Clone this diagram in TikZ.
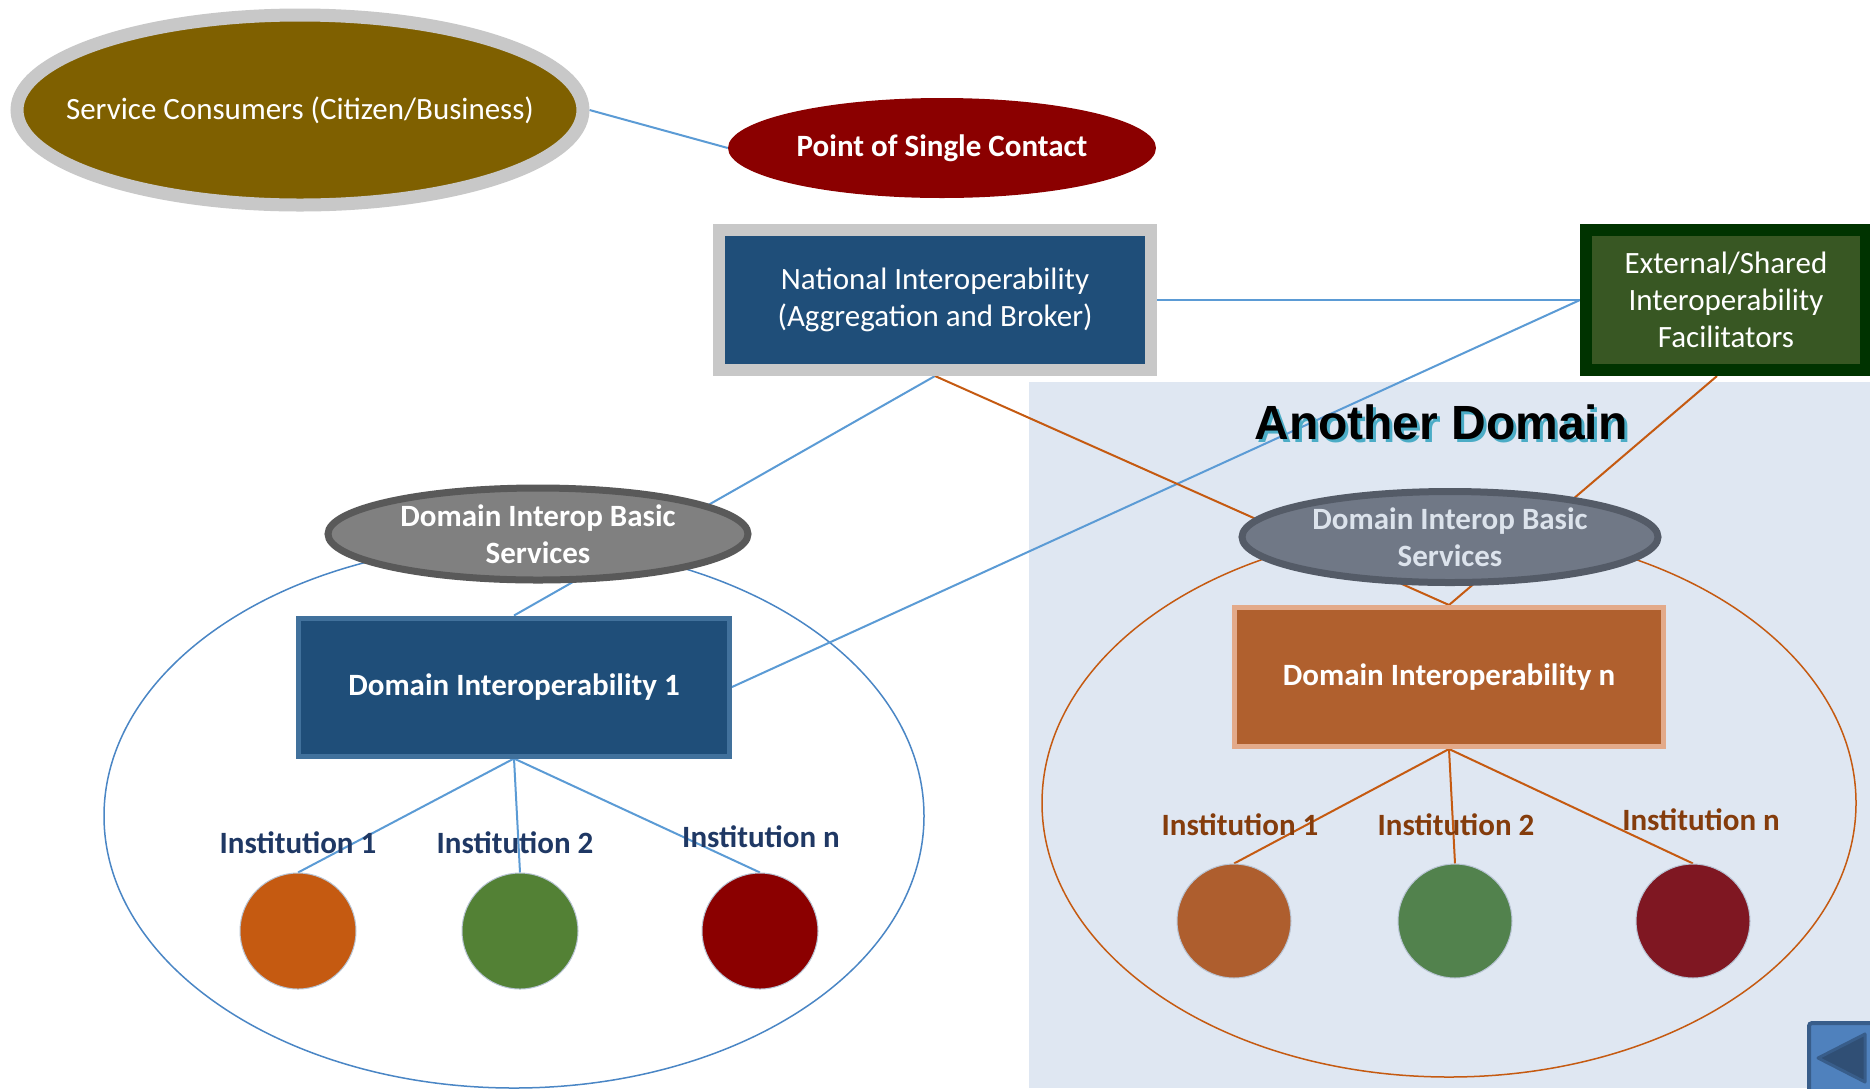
\documentclass[tikz,border=0pt]{standalone}
\usepackage{fontspec}
\setmainfont{Carlito}
\newfontfamily\arialfont{Liberation Sans}
\usepackage{pdfrender}
\usetikzlibrary{shapes.geometric}
\pgfdeclarelayer{bg}
\pgfdeclarelayer{lines}
\pgfsetlayers{bg,lines,main}
\definecolor{scfill}{HTML}{7F6000}
\definecolor{rimgray}{HTML}{C8C8C8}
\definecolor{pscred}{HTML}{8B0000}
\definecolor{navy}{HTML}{1F4E79}
\definecolor{navyrim}{HTML}{41719C}
\definecolor{extfill}{HTML}{385723}
\definecolor{extrim}{HTML}{003300}
\definecolor{dibsfill}{HTML}{808080}
\definecolor{dibsrim}{HTML}{595959}
\definecolor{dibsfillR}{HTML}{707886}
\definecolor{dibsrimR}{HTML}{545B67}
\definecolor{dibstextR}{HTML}{DCE3EC}
\definecolor{domnfill}{HTML}{B0602E}
\definecolor{domnrim}{HTML}{E3AA8A}
\definecolor{lineblue}{HTML}{5B9BD5}
\definecolor{ellblue}{HTML}{4A86C5}
\definecolor{lineorange}{HTML}{C55A11}
\definecolor{regionbg}{HTML}{DFE7F2}
\definecolor{instnavy}{HTML}{1F3864}
\definecolor{instbrown}{HTML}{843C0C}
\definecolor{cOrangeL}{HTML}{C55A11}
\definecolor{cGreenL}{HTML}{538135}
\definecolor{cRedL}{HTML}{8B0000}
\definecolor{cOrangeR}{HTML}{AE5E2E}
\definecolor{cGreenR}{HTML}{52824D}
\definecolor{cRedR}{HTML}{7F1722}
\definecolor{circrim}{HTML}{B8C4D4}
\definecolor{btnfill}{HTML}{4F81BD}
\definecolor{btnrim}{HTML}{385D8A}
\definecolor{shadowcyan}{HTML}{4BACC6}
\definecolor{outlinegray}{HTML}{8C8C8C}
\begin{document}
\begin{tikzpicture}[x=1pt,y=-1pt,
  txt/.style={font=\fontsize{31}{37}\selectfont, text=white, align=center, inner sep=0pt},
  btxt/.style={font=\fontsize{31}{37}\selectfont\bfseries, text=white, align=center, inner sep=0pt},
  ellnode/.style={ellipse, inner sep=0pt},
  boxnode/.style={rectangle, inner sep=0pt},
  instcirc/.style={circle, minimum size=116pt, inner sep=0pt, draw=circrim, line width=1pt},
  instL/.style={font=\fontsize{31}{34}\selectfont\bfseries, text=instnavy, inner sep=0pt},
  instR/.style={font=\fontsize{31}{34}\selectfont\bfseries, text=instbrown, inner sep=0pt},
  blueline/.style={draw=lineblue, line width=2pt},
  orangeline/.style={draw=lineorange, line width=2pt}
]
\useasboundingbox (0,0) rectangle (1870,1088);

% ---- nodes ----
\node[ellnode, fill=scfill, draw=rimgray, line width=13pt, minimum width=566pt, minimum height=190pt] (sc) at (300,110) {};
\node[txt] (sct) at (sc.center) {Service Consumers (Citizen/Business)};

\node[ellnode, fill=pscred, minimum width=428pt, minimum height=100pt] (psc) at (942,148) {};
\node[btxt] (psct) at (psc.center) {Point of Single Contact};

\node[boxnode, fill=navy, draw=rimgray, line width=12pt, minimum width=432pt, minimum height=140pt] (nat) at (935,300) {};
\node[txt] (natt) at (nat.center) {National Interoperability\\(Aggregation and Broker)};

\node[boxnode, fill=extfill, draw=extrim, line width=12pt, minimum width=280pt, minimum height=140pt] (ext) at (1726,300) {};
\node[txt] (extt) at (ext.center) {External/Shared\\Interoperability\\Facilitators};

\node[ellnode, fill=dibsfill, draw=dibsrim, line width=7pt, minimum width=420pt, minimum height=92pt] (dibsL) at (538,534) {};
\node[btxt] (dibsLt) at (dibsL.center) {Domain Interop Basic\\Services};

\node[ellnode, fill=dibsfillR, draw=dibsrimR, line width=7pt, minimum width=416pt, minimum height=91pt] (dibsR) at (1450,537) {};
\node[btxt, text=dibstextR] (dibsRt) at (dibsR.center) {Domain Interop Basic\\Services};

\node[boxnode, fill=navy, draw=navyrim, line width=5pt, minimum width=431pt, minimum height=138pt] (dom1) at (514,687) {};
\node[btxt] (dom1t) at (dom1.center) {Domain Interoperability 1};

\node[boxnode, fill=domnfill, draw=domnrim, line width=5pt, minimum width=429pt, minimum height=139pt] (domn) at (1449,677) {};
\node[btxt] (domnt) at (domn.center) {Domain Interoperability n};

% institutions left
\node[instcirc, fill=cOrangeL] (iL1) at (298,931) {};
\node[instcirc, fill=cGreenL] (iL2) at (520,931) {};
\node[instcirc, fill=cRedL] (iLn) at (760,931) {};
\node[instL] (tL1) at (298,843) {Institution 1};
\node[instL] (tL2) at (515,843) {Institution 2};
\node[instL] (tLn) at (761,837) {Institution n};

% institutions right
\node[instcirc, minimum size=114pt, fill=cOrangeR] (iR1) at (1234,921) {};
\node[instcirc, minimum size=114pt, fill=cGreenR] (iR2) at (1455,921) {};
\node[instcirc, minimum size=114pt, fill=cRedR] (iRn) at (1693,921) {};
\node[instR] (tR1) at (1240,825) {Institution 1};
\node[instR] (tR2) at (1456,825) {Institution 2};
\node[instR] (tRn) at (1701,820) {Institution n};

% Another Domain title
\node[inner sep=0pt, text=shadowcyan, font=\fontsize{48}{52}\arialfont\bfseries] (adsh) at (1444,425)
  {\textpdfrender{TextRenderingMode=FillStroke, LineWidth=2.5pt, StrokeColor=shadowcyan, FillColor=shadowcyan}{Another Domain}};
\node[inner sep=0pt, text=black, font=\fontsize{48}{52}\arialfont\bfseries] (ad) at (1441,422)
  {\textpdfrender{TextRenderingMode=FillStroke, LineWidth=2.5pt, StrokeColor=outlinegray, FillColor=black}{Another Domain}};

% back button
\node[boxnode, fill=btnfill, draw=btnrim, line width=4pt, rounded corners=3pt, minimum width=72pt, minimum height=72pt] (back) at (1845,1059) {};
\fill[btnrim!85!black, draw=btnrim, line width=3pt, line join=round]
  ([xshift=-27pt,yshift=1pt]back.center) -- ([xshift=20pt,yshift=25pt]back.center) -- ([xshift=20pt,yshift=-23pt]back.center) -- cycle;

% ---- background ----
\begin{pgfonlayer}{bg}
  \fill[white] (0,0) rectangle (1870,1088);
  \fill[regionbg] (1029,382) rectangle (1870,1088);
  \draw[ellblue, line width=1.5pt] (514,816) ellipse [x radius=410, y radius=272];
  \draw[lineorange, line width=1.5pt] (1449,803) ellipse [x radius=407, y radius=274];
\end{pgfonlayer}

% ---- connectors ----
\begin{pgfonlayer}{lines}
  \draw[blueline] (sc.east) -- (psc.west);
  \draw[blueline] (nat.east) -- (ext.west);
  \draw[blueline] (ext.west) -- (dom1.east);
  \draw[blueline] (nat.south) -- (dom1.north);
  \draw[orangeline] (nat.south) -- (domn.north);
  \draw[orangeline] ([xshift=-9pt]ext.south) -- (domn.north);
  \draw[blueline] (dom1.south) -- (iL1.north);
  \draw[blueline] (dom1.south) -- (iL2.north);
  \draw[blueline] (dom1.south) -- (iLn.north);
  \draw[orangeline] (domn.south) -- (iR1.north);
  \draw[orangeline] (domn.south) -- (iR2.north);
  \draw[orangeline] (domn.south) -- (iRn.north);
\end{pgfonlayer}
\end{tikzpicture}
\end{document}
